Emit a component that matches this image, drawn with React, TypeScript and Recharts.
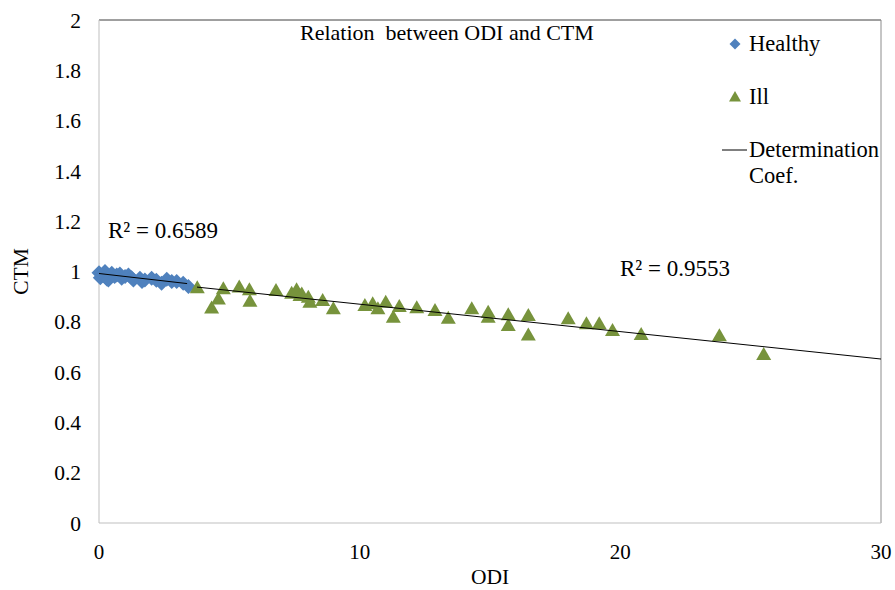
import { Label, Legend, ReferenceLine, Scatter, ScatterChart, XAxis, YAxis } from "recharts";

// ODI / CTM readings per group
const healthyOdi = [0, 0.05, 0.12, 0.23, 0.3, 0.36, 0.49, 0.6, 0.68, 0.8, 0.87, 1.0, 1.13, 1.25, 1.32, 1.57, 1.65, 1.76, 2.02, 2.2, 2.4, 2.6, 2.79, 2.98, 3.23, 3.43];
const healthyCtm = [0.995, 0.975, 0.985, 1.0, 0.97, 0.966, 0.993, 0.98, 0.986, 0.99, 0.973, 0.98, 0.986, 0.975, 0.966, 0.973, 0.96, 0.966, 0.973, 0.965, 0.953, 0.969, 0.96, 0.96, 0.953, 0.94];

const illOdi = [3.77, 4.32, 4.58, 4.77, 5.38, 5.77, 5.79, 6.79, 7.39, 7.58, 7.71, 7.78, 8.03, 8.09, 8.58, 8.99, 10.2, 10.5, 10.7, 11.0, 11.29, 11.52, 12.19, 12.89, 13.4, 14.3, 14.93, 14.93, 15.7, 15.7, 16.47, 16.47, 18.0, 18.7, 19.19, 19.7, 20.8, 23.8, 25.5];
const illCtm = [0.937, 0.857, 0.893, 0.933, 0.94, 0.929, 0.884, 0.926, 0.916, 0.929, 0.907, 0.913, 0.9, 0.88, 0.887, 0.854, 0.867, 0.874, 0.854, 0.88, 0.82, 0.863, 0.858, 0.847, 0.816, 0.854, 0.84, 0.82, 0.83, 0.787, 0.827, 0.75, 0.814, 0.794, 0.794, 0.767, 0.751, 0.747, 0.672];

// linear trend line end points
const healthyFitOdi = [0, 3.38];
const healthyFitCtm = [0.992, 0.952];
const illFitOdi = [3.76, 30];
const illFitCtm = [0.938, 0.652];

const xTicks = [0, 10, 20, 30];
const yTicks = [0, 0.2, 0.4, 0.6, 0.8, 1, 1.2, 1.4, 1.6, 1.8, 2];

const legendItems = ["Healthy", "Ill", "Determination"];

const toPoints = (xs: number[], ys: number[]) => xs.map((odi, i) => ({ odi, ctm: ys[i] }));

const healthy = toPoints(healthyOdi, healthyCtm);
const ill = toPoints(illOdi, illCtm);
const healthyFit = toPoints(healthyFitOdi, healthyFitCtm);
const illFit = toPoints(illFitOdi, illFitCtm);

const BLUE = "#4F81BD";
const GREEN = "#77933C";
const FONT = '"Liberation Serif", "DejaVu Serif", serif';

const DiamondMark = ({ cx, cy }: any) => {
  const r = 7.5;
  return <polygon points={`${cx},${cy - r} ${cx + r},${cy} ${cx},${cy + r} ${cx - r},${cy}`} fill={BLUE} />;
};

const TriangleMark = ({ cx, cy }: any) => (
  <polygon points={`${cx},${cy - 7} ${cx + 7.5},${cy + 6} ${cx - 7.5},${cy + 6}`} fill={GREEN} />
);

const NoMark = () => <g />;

function LegendBox() {
  const row = { display: "flex", alignItems: "center", height: 26 } as const;
  return (
    <div style={{ fontFamily: FONT, fontSize: 22.5, color: "#000", lineHeight: "26px" }}>
      <div style={{ ...row, marginBottom: 27 }}>
        <svg width={31} height={20}>
          <polygon points="17,4.5 22.5,10 17,15.5 11.5,10" fill={BLUE} />
        </svg>
        <span>{legendItems[0]}</span>
      </div>
      <div style={{ ...row, marginBottom: 27 }}>
        <svg width={31} height={20}>
          <polygon points="17,4 23,14.5 11,14.5" fill={GREEN} />
        </svg>
        <span>{legendItems[1]}</span>
      </div>
      <div style={{ display: "flex", alignItems: "flex-start" }}>
        <svg width={31} height={26}>
          <line x1={4} x2={29} y1={13} y2={13} stroke="#000" strokeWidth={1} />
        </svg>
        <span>
          {legendItems[2]}
          <br />
          Coef.
        </span>
      </div>
    </div>
  );
}

export default function App() {
  return (
    <div style={{ position: "absolute", left: 0, top: 0, width: 895, height: 590, background: "#fff", fontFamily: FONT }}>
      <ScatterChart width={895} height={590} margin={{ top: 20, right: 14, bottom: 0, left: 5 }}>
        <XAxis
          type="number"
          dataKey="odi"
          domain={[0, 30]}
          ticks={xTicks}
          height={67}
          tickLine={false}
          tickSize={0}
          tickMargin={21}
          axisLine={{ stroke: "#BFBFBF" }}
          tick={{ fill: "#000", fontSize: 21, fontFamily: FONT }}
        >
          <Label value="ODI" position="insideBottom" offset={6} style={{ fill: "#000", fontSize: 21.5, fontFamily: FONT }} />
        </XAxis>
        <YAxis
          type="number"
          dataKey="ctm"
          domain={[0, 2]}
          ticks={yTicks}
          width={94}
          tickLine={false}
          tickSize={0}
          tickMargin={18}
          axisLine={{ stroke: "#BFBFBF" }}
          tick={{ fill: "#000", fontSize: 21.5, fontFamily: FONT }}
        >
          <Label value="CTM" angle={-90} position="insideLeft" offset={15} style={{ fill: "#000", fontSize: 21.5, fontFamily: FONT, textAnchor: "middle" }} />
        </YAxis>
        <ReferenceLine y={2} stroke="#404040" strokeWidth={1} />
        <ReferenceLine x={30} stroke="#8C8C8C" strokeWidth={1} />
        <Legend
          layout="horizontal"
          verticalAlign="middle"
          content={<LegendBox />}
          wrapperStyle={{ left: 718, top: 31, width: 177 }}
        />
        <Scatter name="Healthy" data={healthy} shape={<DiamondMark />} isAnimationActive={false} />
        <Scatter name="Ill" data={ill} shape={<TriangleMark />} isAnimationActive={false} />
        <Scatter data={healthyFit} line={{ stroke: "#000", strokeWidth: 1 }} shape={<NoMark />} legendType="none" isAnimationActive={false} />
        <Scatter data={illFit} line={{ stroke: "#000", strokeWidth: 1 }} shape={<NoMark />} legendType="none" isAnimationActive={false} />
      </ScatterChart>
      <svg width={895} height={590} style={{ position: "absolute", left: 0, top: 0, pointerEvents: "none" }}>
        <g style={{ fontFamily: FONT }} fill="#000">
          <text x={300} y={40} fontSize={22} style={{ whiteSpace: "pre" }}>
            Relation  between ODI and CTM
          </text>
          <text x={108} y={238} fontSize={23}>
            R² = 0.6589
          </text>
          <text x={620} y={276} fontSize={23}>
            R² = 0.9553
          </text>
        </g>
      </svg>
    </div>
  );
}
